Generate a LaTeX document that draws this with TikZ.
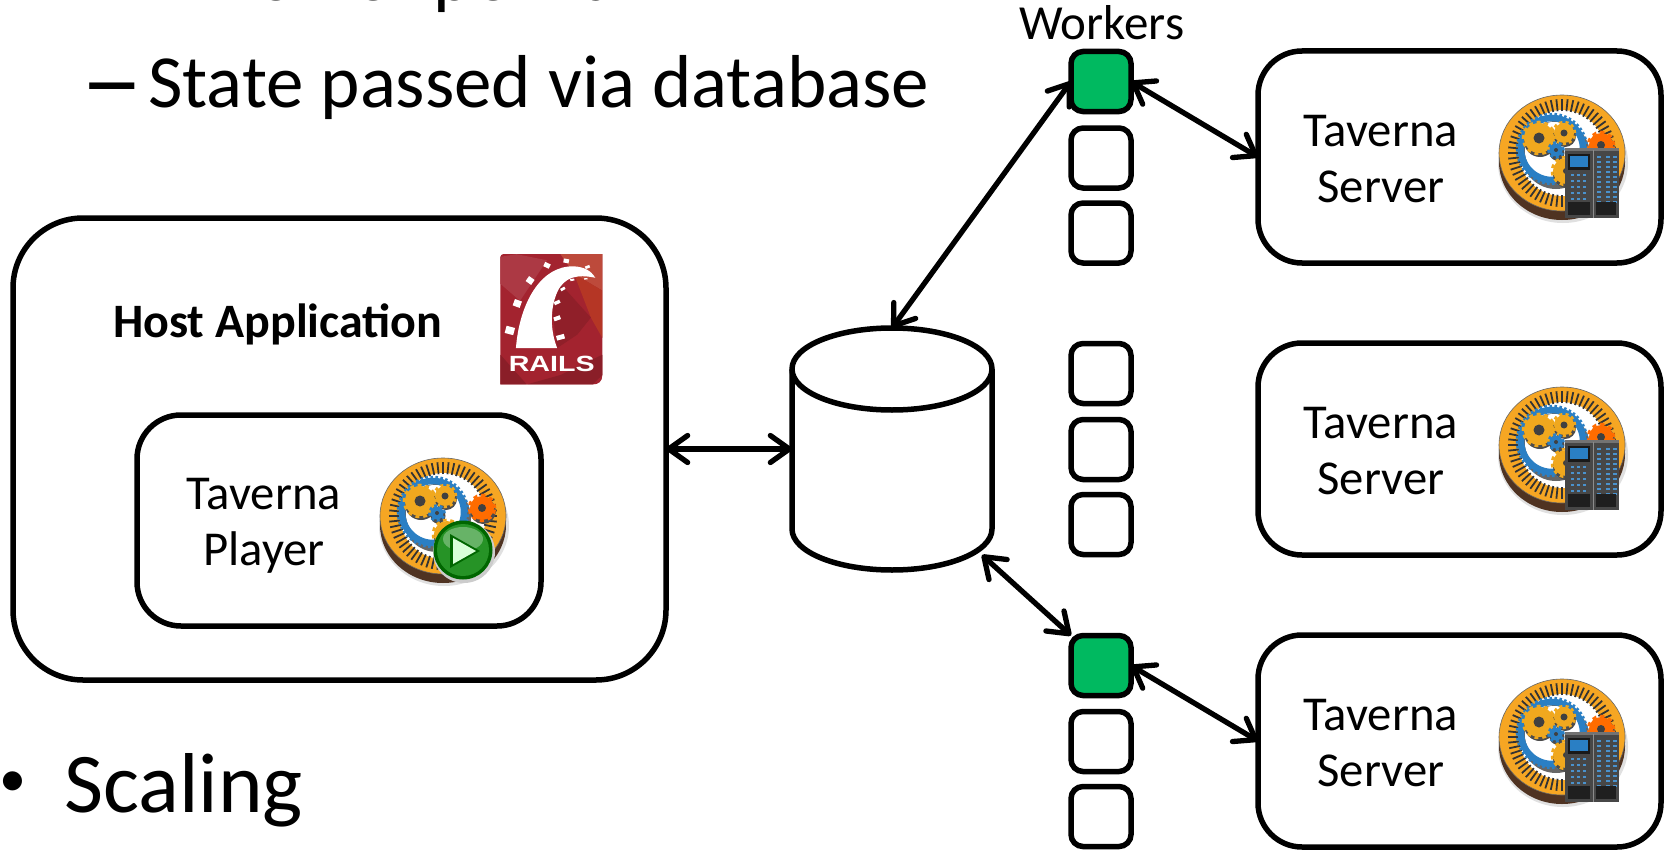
\documentclass[tikz,border=0pt]{standalone}
\usepackage{fontspec}
\setmainfont{Carlito}
\newfontfamily\railsfont{Liberation Sans}
\usetikzlibrary{arrows.meta}
\definecolor{wgreen}{HTML}{00B960}
\definecolor{torange}{HTML}{F6A623}
\definecolor{tblue}{HTML}{2A7FC4}
\definecolor{tgold}{HTML}{F0A81E}
\definecolor{tbrown}{HTML}{4F3322}
\definecolor{railred}{HTML}{A3232F}
\tikzset{
  outline/.style={draw=black,line width=5.5pt,fill=white,outer sep=0pt,inner sep=0pt},
  hostbox/.style={outline,rounded corners=70pt,minimum width=653pt,minimum height=462pt},
  playerbox/.style={outline,rounded corners=44pt,minimum width=404pt,minimum height=211pt},
  serverbox/.style={outline,rounded corners=44pt,minimum width=403pt,minimum height=212pt},
  workerbox/.style={outline,rounded corners=12pt,minimum width=60pt,minimum height=60pt},
  activeworker/.style={workerbox,fill=wgreen},
  link/.style={line width=5.3pt,{Straight Barb[length=19pt,width=27pt,line width=5.3pt,round]}-{Straight Barb[length=19pt,width=27pt,line width=5.3pt,round]}},
  bigtext/.style={anchor=base west,inner sep=0pt,font=\fontsize{75}{85}\selectfont},
  labeltext/.style={align=center,inner sep=0pt,font=\fontsize{48.7}{56.5}\selectfont},
}
\newcommand{\tgear}[6]{% x y r colour teeth holeradius
  \pgfmathsetmacro{\gdash}{3.14159*#3/#5}
  \fill[black!70] (#1+1,#2+3) circle (#3+1pt);
  \fill[#4] (#1,#2) circle (#3 pt);
  \draw[#4,line width=2.6pt,dash pattern=on \gdash pt off \gdash pt] (#1,#2) circle (#3+1pt);
  \fill[black!75] (#1,#2) circle (#6 pt);
}
\newcommand{\tavdisc}[2]{%
  \begin{scope}[shift={(#1,#2)}]
    \fill[black!12] (1,10) ellipse (65pt and 60pt);
    \fill[tbrown] (0,9) ellipse (63pt and 58pt);
    \fill[torange] (0,0) ellipse (63pt and 58pt);
    \draw[black!60,line width=.6pt] (0,0) ellipse (63pt and 58pt);
    \fill[white] (0,0) circle (43pt);
    \foreach \a in {0,6,...,354}{\draw[black!80,line width=1.8pt] (\a:42pt) -- (\a:54pt);}
    \fill[black!60] (-6,2) circle (34pt);
    \fill[white] (-8,-2) circle (29pt);
    \draw[tblue,line width=6.5pt] (-10,-4) circle (31pt);
    \draw[tblue,line width=2.5pt,dash pattern=on 2.5pt off 2.5pt] (-10,-4) circle (35pt);
    \tgear{39}{-8}{12}{orange!85!red}{9}{4}
    \tgear{-23}{-15}{15}{tgold}{12}{5.5}
    \tgear{2}{-20}{10}{tgold}{10}{3.5}
    \tgear{-6}{-3}{6.5}{tblue}{7}{2}
    \tgear{4}{18}{13}{tgold}{11}{3}
  \end{scope}
}
\newcommand{\tavrack}[2]{%
  \begin{scope}[shift={(#1,#2)}]
    \fill[black!72] (1,-5) rectangle (55,65);
    \fill[black!55] (1,-5) rectangle (55,-2);
    \draw[black!45,line width=1pt] (29,-3) -- (29,65);
    \fill[black!90] (4,1) rectangle (26,17);
    \fill[tblue] (6,3) rectangle (24,14);
    \foreach \r in {21,27,33,39,45}{
      \foreach \c in {7,13,19}{\fill[tblue!85!white] (\c,\r) rectangle (\c+3.4,\r+2);}
    }
    \foreach \r in {3,8,...,48}{
      \foreach \c in {33,42,49}{\fill[tblue!85!white] (\c,\r) rectangle (\c+4,\r+1.6);}
    }
    \fill[black!88] (4,49) rectangle (26,62);
    \fill[black!88] (32,49) rectangle (52,62);
  \end{scope}
}
\begin{document}
\begin{tikzpicture}[x=1pt,y=-1pt]
\useasboundingbox (0,0) rectangle (1671,851);
\clip (0,0) rectangle (1671,851);
\fill[white] (0,0) rectangle (1671,851);
% text list
\node[bigtext] (line1) at (80,1) {\makebox[68pt][l]{\scalebox{1.7}[1]{\bfseries –}}1 worker per run};
\node[bigtext] (line2) at (80,107) {\makebox[68pt][l]{\scalebox{1.7}[1]{\bfseries –}}State passed via database};
\node[bigtext,font=\fontsize{54}{60}\selectfont] (bullet) at (-1,796) {•};
\node[bigtext,font=\fontsize{85}{90}\selectfont] (scaling) at (64,812) {Scaling};
% boxes
\node[hostbox] (host) at (339.5,449) {};
\node[playerbox] (player) at (339,520.5) {};
\node[serverbox] (srv1) at (1459.5,157) {};
\node[serverbox] (srv2) at (1459.5,449) {};
\node[serverbox] (srv3) at (1459.5,741) {};
\node[activeworker] (w1) at (1101,81.5) {};
\node[workerbox] (w2) at (1101,158) {};
\node[workerbox] (w3) at (1101,233) {};
\node[workerbox] (w4) at (1101,373.5) {};
\node[workerbox] (w5) at (1101,449.5) {};
\node[workerbox] (w6) at (1101,524.5) {};
\node[activeworker] (w7) at (1101,665.5) {};
\node[workerbox] (w8) at (1101,741.5) {};
\node[workerbox] (w9) at (1101,816.5) {};
% cylinder
\node[inner sep=0pt,outer sep=0pt,minimum width=200pt,minimum height=242pt] (db) at (892,449) {};
\coordinate (dbtl) at (792,369);
\coordinate (dbtr) at (992,369);
\coordinate (dbbr) at (992,529);
\coordinate (dbbl) at (792,529);
\draw[line width=5.5pt,fill=white,line join=round]
   (dbtl) -- (dbbl) .. controls (792,552) and (837,570) .. (892,570)
   .. controls (947,570) and (992,552) .. (dbbr) -- (dbtr)
   .. controls (992,346) and (947,328) .. (892,328)
   .. controls (837,328) and (792,346) .. (dbtl) -- cycle;
\draw[line width=5.5pt] (dbtl) .. controls (792,392) and (837,410) .. (892,410)
   .. controls (947,410) and (992,392) .. (dbtr);
\coordinate (dbcorner) at (982,555);
% connectors
\draw[link] (host.east) -- (db.west);
\draw[link] (db.north) -- (w1.west);
\draw[link] (w1.east) -- (srv1.west);
\draw[link] (dbcorner) -- (w7.north west);
\draw[link] (w7.east) -- (srv3.west);
% labels
\node[anchor=base west,inner sep=0pt,font=\fontsize{49}{56}\selectfont] (workers) at (1019,40) {Workers};
\node[anchor=base west,inner sep=0pt,font=\bfseries\fontsize{48}{56}\selectfont] (hostlabel) at (113,337) {Host Application};
\node[labeltext] (playerlabel) at (264,526) {Taverna\\Player};
\node[labeltext] (s1label) at (1381,159) {Taverna\\Server};
\node[labeltext] (s2label) at (1381,451) {Taverna\\Server};
\node[labeltext] (s3label) at (1381,743) {Taverna\\Server};
% icons
\tavdisc{1562}{153}\tavrack{1564}{153}
\tavdisc{1562}{445}\tavrack{1564}{445}
\tavdisc{1562}{737}\tavrack{1564}{737}
\tavdisc{443}{516}
\begin{scope}[shift={(463,550)}]
  \fill[black!20] (1,2) circle (31pt);
  \fill[green!40!black] (0,0) circle (29.5pt);
  \fill[green!50!black!85!white] (0,0) circle (26pt);
  \fill[white,opacity=.3] (0,-11) ellipse (20pt and 12pt);
  \fill[green!40!black] (-13,-16) -- (17,1) -- (-13,18) -- cycle;
  \fill[green!15!white] (-10,-12) -- (13,1) -- (-10,14) -- cycle;
\end{scope}
% rails logo
\begin{scope}[shift={(358,240)},x=.3375pt,y=-.3375pt]
  \fill[railred] (430,42) -- (724,42) -- (724,400) .. controls (724,420) and (712,428) .. (695,428) -- (422,428) -- (422,50) .. controls (422,46) and (426,42) .. (430,42) -- cycle;
  \fill[railred!90!white] (470,42) -- (560,60) -- (480,180) -- (422,130) -- (422,50) -- cycle;
  \fill[railred!80!orange!90!white] (600,42) -- (724,42) -- (724,150) -- (640,100) -- cycle;
  \fill[railred!80!orange] (640,100) -- (724,150) -- (724,290) -- (690,230) -- cycle;
  \fill[railred!88!black] (600,130) -- (690,230) -- (650,280) -- (590,320) -- (575,200) -- cycle;
  \fill[railred!85!black] (422,340) -- (500,428) -- (600,400) -- (724,340) -- (724,400) -- (695,428) -- (422,428) -- cycle;
  \fill[white] (468,320) .. controls (478,190) and (540,75) .. (640,78) .. controls (670,80) and (690,90) .. (703,112)
     .. controls (650,100) and (610,110) .. (590,155) .. controls (568,205) and (570,270) .. (590,320) -- cycle;
  \foreach \px/\py/\sx/\sy/\rot in {450/268/13/11/-15,472/188/11/10/-20,510/120/10/9/-35,560/75/9/7/-25,617/62/8/6/-10,680/80/7/4/20,600/288/12/7/15,590/232/10/6/20,590/185/9/5/25,607/145/7/4/30,635/118/6/3/10,675/115/5/2/5}{
    \fill[white,rotate around={\rot:(\px,\py)}] (\px-\sx,\py-\sy) rectangle (\px+\sx,\py+\sy);
  }
  \node[inner sep=0pt,text=white,font=\railsfont\bfseries\fontsize{22}{22}\selectfont] (railstext) at (574,367) {\scalebox{1.3}[1]{RAILS}};
\end{scope}
\end{tikzpicture}
\end{document}
